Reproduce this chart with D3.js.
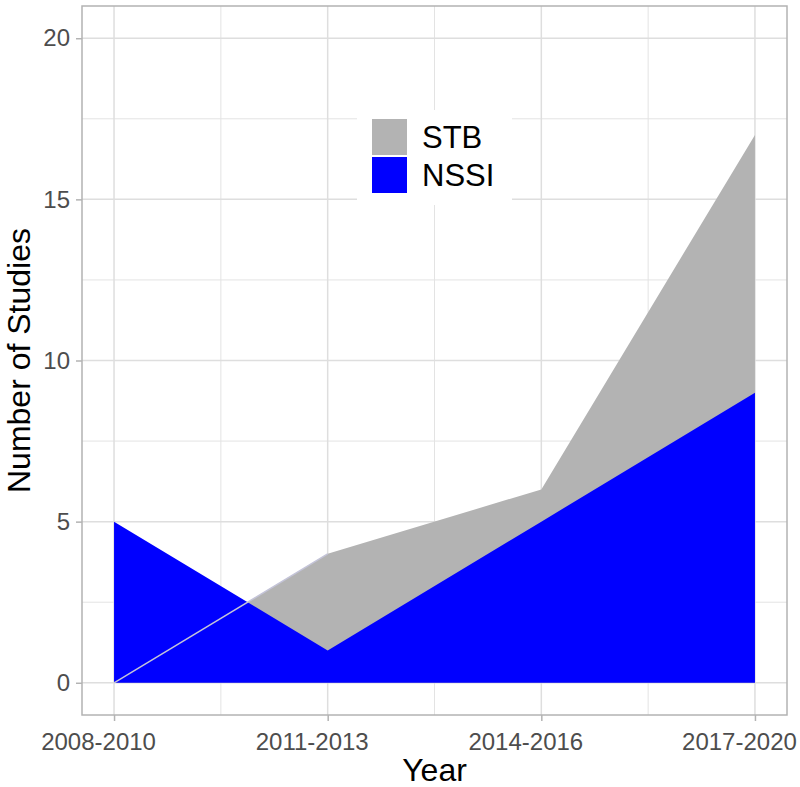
<!DOCTYPE html>
<html>
<head>
<meta charset="utf-8">
<script src="https://cdn.jsdelivr.net/npm/d3@7"></script>
<style>
  body { margin: 0; background: #fff; }
  text { font-family: "Liberation Sans", Arial, sans-serif; }
</style>
</head>
<body>
<div id="chart"></div>
<script>
// data
var years = ["2008-2010", "2011-2013", "2014-2016", "2017-2020"];
var stb = [0, 4, 6, 17];
var nssi = [5, 1, 5, 9];
var yTicks = [0, 5, 10, 15, 20];
var seriesNames = ["STB", "NSSI"];
var seriesColors = ["#b3b3b3", "#0000ff"];

// set the dimensions and margins of the graph
var margin = {top: 6, right: 13, bottom: 72, left: 82},
    width = 800 - margin.left - margin.right,
    height = 787 - margin.top - margin.bottom;

var svg = d3.select("#chart")
  .append("svg")
    .attr("width", 800)
    .attr("height", 787)
  .append("g")
    .attr("transform", "translate(" + margin.left + "," + margin.top + ")");

// x is continuous over the category index, with 5% padding like ggplot
var n = years.length;
var padX = (n - 1) * 0.05;
var x = d3.scaleLinear()
  .domain([1 - padX, n + padX])
  .range([0, width]);

var y = d3.scaleLinear()
  .domain([-1, 21])
  .range([height, 0]);

var idx = years.map(function(d, i) { return i + 1; });

// minor grid
var minorX = idx.slice(0, -1).map(function(d) { return d + 0.5; });
var minorY = yTicks.slice(0, -1).map(function(d) { return d + 2.5; });
svg.selectAll(".minx").data(minorX).enter().append("line")
  .attr("x1", function(d) { return x(d); }).attr("x2", function(d) { return x(d); })
  .attr("y1", 0).attr("y2", height)
  .attr("stroke", "#e3e3e3").attr("stroke-width", 1);
svg.selectAll(".miny").data(minorY).enter().append("line")
  .attr("y1", function(d) { return y(d); }).attr("y2", function(d) { return y(d); })
  .attr("x1", 0).attr("x2", width)
  .attr("stroke", "#e3e3e3").attr("stroke-width", 1);

// major grid
svg.selectAll(".majx").data(idx).enter().append("line")
  .attr("x1", function(d) { return x(d); }).attr("x2", function(d) { return x(d); })
  .attr("y1", 0).attr("y2", height)
  .attr("stroke", "#dedede").attr("stroke-width", 1.5);
svg.selectAll(".majy").data(yTicks).enter().append("line")
  .attr("y1", function(d) { return y(d); }).attr("y2", function(d) { return y(d); })
  .attr("x1", 0).attr("x2", width)
  .attr("stroke", "#dedede").attr("stroke-width", 1.5);

// areas, STB first then NSSI over it
var area = d3.area()
  .x(function(d, i) { return x(i + 1); })
  .y0(y(0))
  .y1(function(d) { return y(d); });

svg.append("path").datum(stb)
  .attr("fill", seriesColors[0])
  .attr("d", area);
svg.append("path").datum(nssi)
  .attr("fill", seriesColors[1])
  .attr("d", area);

// faint seam of the STB edge showing through the blue
svg.append("path").datum(stb.slice(0, 2))
  .attr("fill", "none")
  .attr("stroke", "#c4c4d8")
  .attr("stroke-width", 1.5)
  .attr("d", d3.line()
    .x(function(d, i) { return x(i + 1); })
    .y(function(d) { return y(d); }));

// panel border
svg.append("rect")
  .attr("x", 0).attr("y", 0)
  .attr("width", width).attr("height", height)
  .attr("fill", "none")
  .attr("stroke", "#b3b3b3")
  .attr("stroke-width", 1.5);

// axes
var xAxis = svg.append("g")
  .attr("transform", "translate(0," + height + ")")
  .call(d3.axisBottom(x).tickValues(idx).tickSize(6).tickPadding(6)
    .tickFormat(function(d) { return years[d - 1]; }));
var yAxis = svg.append("g")
  .call(d3.axisLeft(y).tickValues(yTicks).tickSize(6).tickPadding(6));

[xAxis, yAxis].forEach(function(a) {
  a.select(".domain").remove();
  a.selectAll(".tick line").attr("stroke", "#b3b3b3").attr("stroke-width", 1.5);
  a.selectAll(".tick text")
    .attr("fill", "#4d4d4d")
    .style("font-size", "24px")
    .style("font-family", "'Liberation Sans', Arial, sans-serif");
});
// labels in the reference sit a little left of their ticks
xAxis.selectAll(".tick text").attr("dy", "0.95em").attr("dx", -16);

// axis titles
svg.append("text")
  .attr("x", width / 2)
  .attr("y", height + 66)
  .attr("text-anchor", "middle")
  .style("font-size", "32px")
  .attr("fill", "#000")
  .text("Year");

svg.append("text")
  .attr("transform", "translate(" + (30 - margin.left) + "," + (height / 2) + ") rotate(-90)")
  .attr("text-anchor", "middle")
  .style("font-size", "32px")
  .attr("fill", "#000")
  .text("Number of Studies");

// legend
var legend = svg.append("g")
  .attr("transform", "translate(" + (357 - margin.left) + "," + (110 - margin.top) + ")");
legend.append("rect")
  .attr("width", 155).attr("height", 95)
  .attr("fill", "#fff");
seriesNames.forEach(function(name, i) {
  legend.append("rect")
    .attr("x", 15).attr("y", 9 + i * 38)
    .attr("width", 35).attr("height", 36)
    .attr("fill", seriesColors[i]);
  legend.append("text")
    .attr("x", 65).attr("y", 9 + i * 38 + 29)
    .style("font-size", "31px")
    .attr("fill", "#000")
    .text(name);
});
</script>
</body>
</html>
